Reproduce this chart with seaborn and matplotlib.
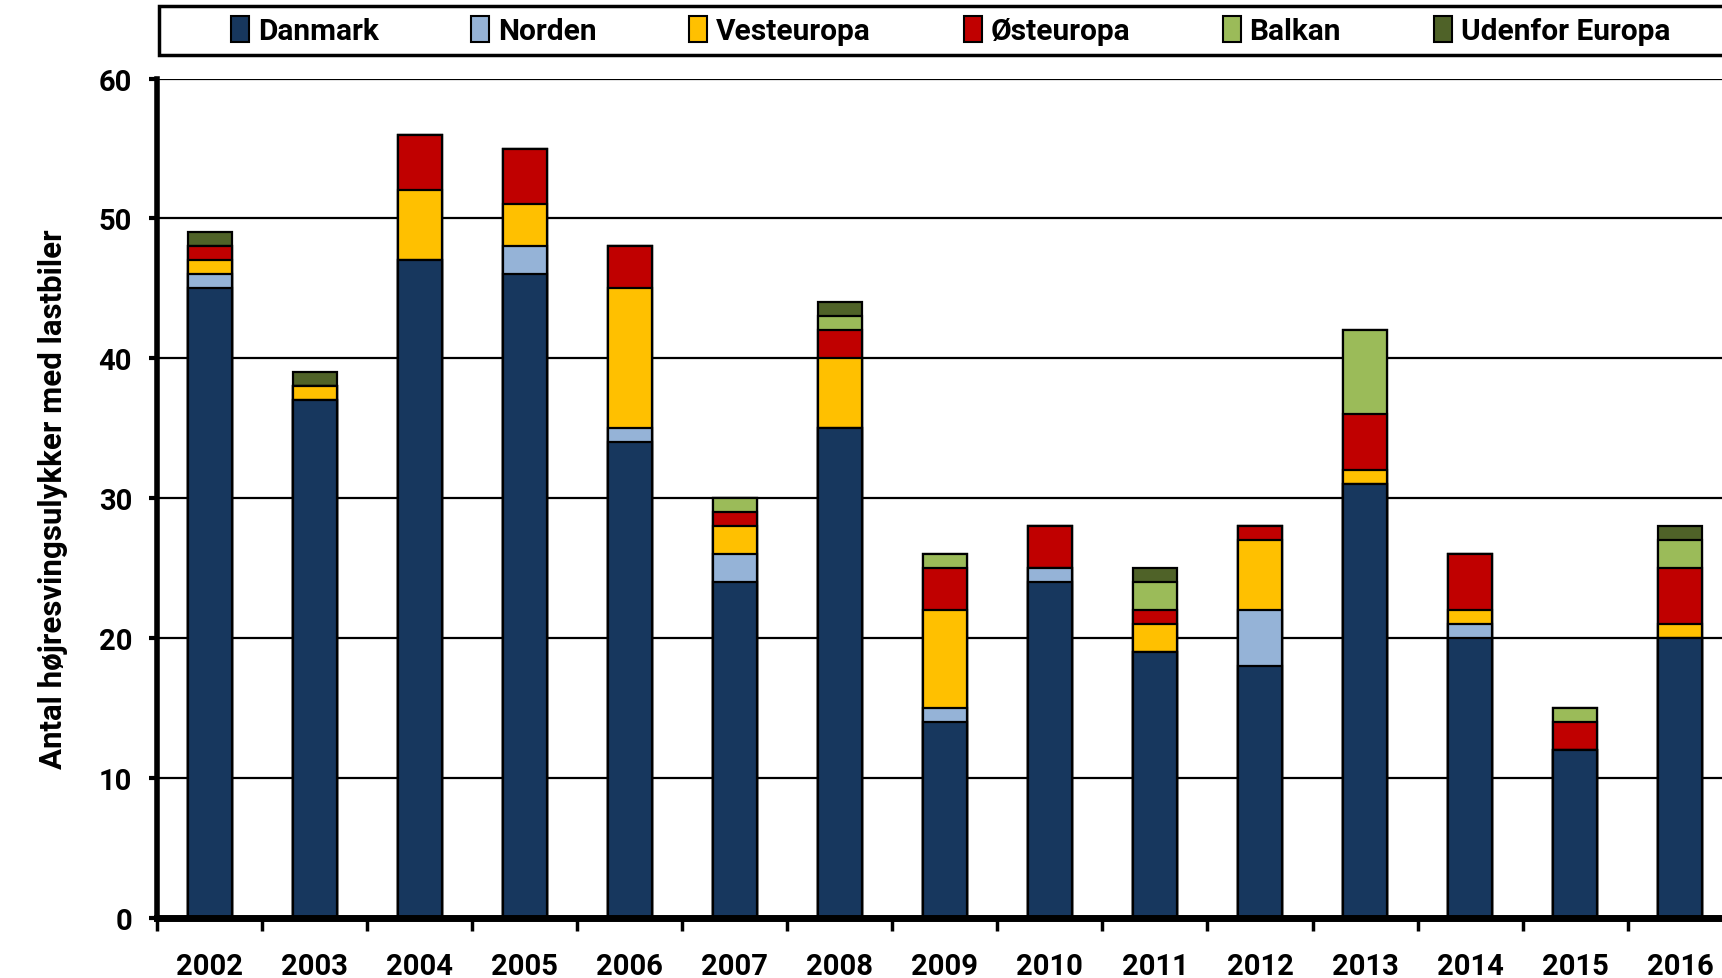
import numpy as np
import matplotlib
matplotlib.use("Agg")
import matplotlib.pyplot as plt
from matplotlib.patches import Rectangle, Patch
from matplotlib.ticker import FixedLocator
import seaborn as sns
import pandas as pd

years = ['2002', '2003', '2004', '2005', '2006', '2007', '2008', '2009',
         '2010', '2011', '2012', '2013', '2014', '2015', '2016']
danmark = [45, 37, 47, 46, 34, 24, 35, 14, 24, 19, 18, 31, 20, 12, 20]
norden = [1, 0, 0, 2, 1, 2, 0, 1, 1, 0, 4, 0, 1, 0, 0]
vesteuropa = [1, 1, 5, 3, 10, 2, 5, 7, 0, 2, 5, 1, 1, 0, 1]
osteuropa = [1, 0, 4, 4, 3, 1, 2, 3, 3, 1, 1, 4, 4, 2, 4]
balkan = [0, 0, 0, 0, 0, 1, 1, 1, 0, 2, 0, 6, 0, 1, 2]
udenfor = [1, 1, 0, 0, 0, 0, 1, 0, 0, 1, 0, 0, 0, 0, 1]

series_names = ['Danmark', 'Norden', 'Vesteuropa', 'Østeuropa', 'Balkan', 'Udenfor Europa']
series_vals = [danmark, norden, vesteuropa, osteuropa, balkan, udenfor]
colors = ['#17375E', '#95B3D7', '#FFC000', '#C00000', '#9BBB59', '#4F6228']

sns.set_theme(style="white")
plt.rcParams['font.family'] = ['Roboto', 'DejaVu Sans']
plt.rcParams['font.weight'] = 'bold'
plt.rcParams['text.color'] = 'black'
plt.rcParams['axes.labelcolor'] = 'black'
plt.rcParams['xtick.color'] = 'black'
plt.rcParams['ytick.color'] = 'black'

df = pd.DataFrame({'År': years})
cum = np.zeros(len(years))
for name, vals in zip(series_names, series_vals):
    cum = cum + np.array(vals)
    df[name] = cum

fig = plt.figure(figsize=(17.22, 9.79), dpi=100)
ax = fig.add_axes([0.0912, 0.0617, 0.915, 0.857])

# stack by drawing cumulative totals from the top segment down
for name, col in reversed(list(zip(series_names, colors))):
    sns.barplot(data=df, x='År', y=name, color=col, width=0.42,
                edgecolor='black', linewidth=1.6, saturation=1, ax=ax, zorder=3)

ax.set_ylim(0, 60)
ax.set_xlim(-0.5, len(years) - 0.5)
ax.set_yticks(range(0, 61, 10))
ax.yaxis.grid(True, color='black', linewidth=1.6, zorder=0)
ax.set_axisbelow(True)

for s in ['top', 'right']:
    ax.spines[s].set_visible(False)
ax.spines['left'].set_linewidth(4)
ax.spines['bottom'].set_linewidth(5)
ax.spines['left'].set_color('black')
ax.spines['bottom'].set_color('black')
ax.spines['bottom'].set_zorder(5)

ax.xaxis.set_minor_locator(FixedLocator(np.arange(-0.5, len(years), 1)))
ax.tick_params(axis='x', which='major', length=0, pad=25, labelsize=21)
ax.tick_params(axis='x', which='minor', length=9, width=2.5, color='black', direction='out', bottom=True)
ax.tick_params(axis='y', which='major', length=6, width=3, color='black', direction='out', left=True,
               labelsize=21, pad=12)
for lab in ax.get_xticklabels() + ax.get_yticklabels():
    lab.set_fontweight('bold')

ax.set_xlabel('')
ax.set_ylabel('Antal højresvingsulykker med lastbiler', fontsize=22.5, fontweight='bold', labelpad=22)

# legend box across the top
fig.patches.append(Rectangle((0.0925, 0.943), 0.92, 0.05, transform=fig.transFigure,
                             facecolor='white', edgecolor='black', linewidth=2.5, zorder=1))
handles = [Patch(facecolor=c, edgecolor='black', linewidth=1.5) for c in colors]
fig.legend(handles, series_names, loc='center', bbox_to_anchor=(0.552, 0.968), ncol=6,
           frameon=False, handlelength=0.6, handleheight=1.0, handletextpad=0.3,
           columnspacing=3.1, prop={'weight': 'bold', 'size': 21.5})

fig.savefig('out.png', dpi=100)
